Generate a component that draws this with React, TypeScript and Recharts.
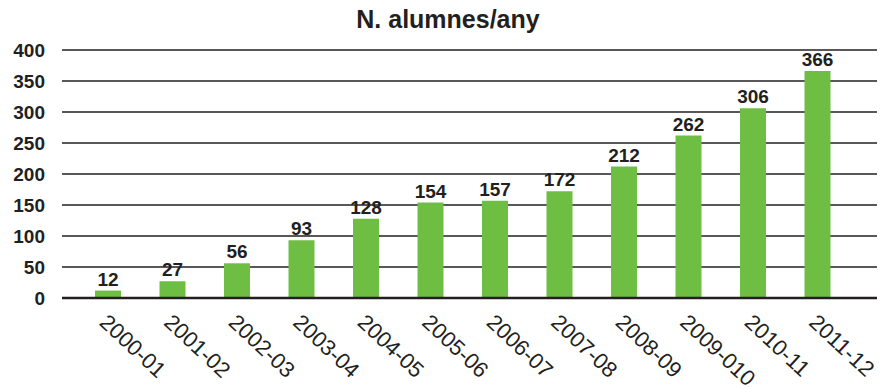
import React from "react";
import { BarChart, Bar, XAxis, YAxis, CartesianGrid, LabelList } from "recharts";

const categories = ["2000-01", "2001-02", "2002-03", "2003-04", "2004-05", "2005-06", "2006-07", "2007-08", "2008-09", "2009-010", "2010-11", "2011-12"];
const students = [12, 27, 56, 93, 128, 154, 157, 172, 212, 262, 306, 366];
const yTicks = [0, 50, 100, 150, 200, 250, 300, 350, 400];
const title = "N. alumnes/any";

const data = categories.map((c, i) => ({ name: c, value: students[i] }));

const FONT = "'Liberation Sans', Arial, Helvetica, sans-serif";
const INK = "#231f20";

const XTick = (props: any) => {
  const { x, y, payload } = props;
  const bx = x - 10;
  const by = y + 26;
  return (
    <text
      x={bx}
      y={by}
      transform={`rotate(43, ${bx}, ${by})`}
      textAnchor="start"
      fontFamily={FONT}
      fontSize={22}
      fill={INK}
    >
      {payload.value}
    </text>
  );
};

export default function App() {
  return (
    <div style={{ position: "absolute", left: 0, top: 0, width: 881, height: 388, background: "#fff" }}>
      <div
        style={{
          position: "absolute",
          left: 0,
          top: 5,
          width: 896,
          textAlign: "center",
          fontFamily: FONT,
          fontWeight: "bold",
          fontSize: 25,
          color: INK,
        }}
      >
        {title}
      </div>
      <BarChart
        width={881}
        height={388}
        data={data}
        margin={{ top: 50, right: 4, bottom: 0, left: 0 }}
        barSize={26}
      >
        <CartesianGrid vertical={false} stroke={INK} strokeWidth={1.3} />
        <XAxis
          dataKey="name"
          height={90}
          interval={0}
          tickLine={false}
          tickSize={0}
          tickMargin={0}
          axisLine={{ stroke: INK, strokeWidth: 2.5 }}
          padding={{ left: 14, right: 27 }}
          tick={<XTick />}
        />
        <YAxis
          width={62}
          domain={[0, 400]}
          ticks={yTicks}
          interval={0}
          axisLine={false}
          tickLine={false}
          tickSize={0}
          tickMargin={17}
          tick={{ fontFamily: FONT, fontSize: 19, fontWeight: "bold", fill: INK }}
        />
        <Bar dataKey="value" fill="#6fbe44" isAnimationActive={false}>
          <LabelList
            dataKey="value"
            position="top"
            offset={5}
            style={{ fontFamily: FONT, fontSize: 19, fontWeight: "bold", fill: INK }}
          />
        </Bar>
      </BarChart>
    </div>
  );
}
